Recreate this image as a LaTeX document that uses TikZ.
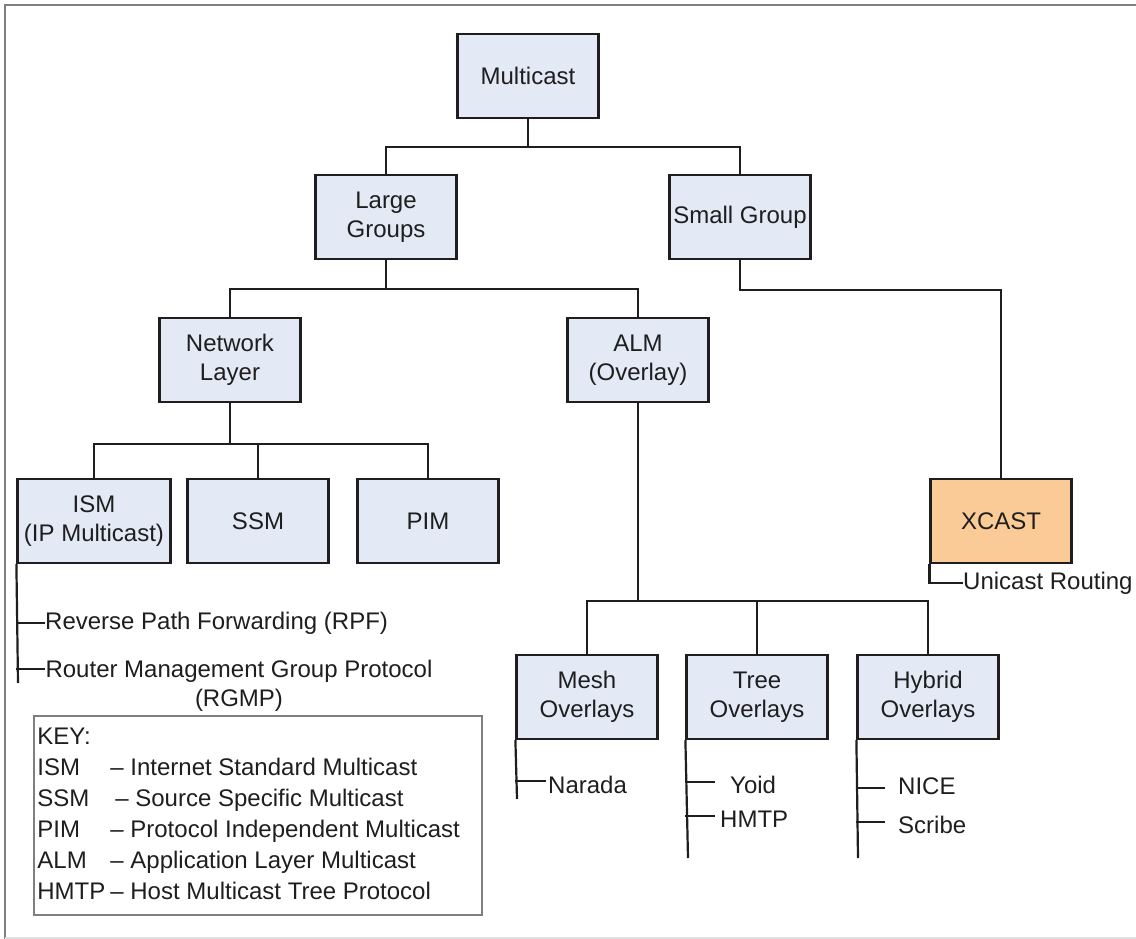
\documentclass[tikz,border=0pt]{standalone}
\usepackage{fontspec}
\setmainfont{Liberation Sans}
\usetikzlibrary{calc}
\definecolor{boxblue}{HTML}{E3EAF6}
\definecolor{boxpeach}{HTML}{FBCB97}
\definecolor{framegray}{HTML}{7F7F7F}
\definecolor{ink}{HTML}{1E1E1E}
\begin{document}
\begin{tikzpicture}[x=1pt,y=-1pt,
  every node/.style={font=\fontsize{24}{29}\selectfont, text=ink},
  tbox/.style={draw=ink, line width=2.2pt, fill=boxblue, minimum width=141pt,
    minimum height=84pt, align=center, inner sep=0pt},
  hot/.style={tbox, fill=boxpeach},
  wire/.style={draw=ink, line width=2.2pt},
  leaf/.style={anchor=west, inner sep=0pt},
  keybox/.style={draw=framegray, line width=1.6pt, minimum width=448pt,
    minimum height=199pt, inner sep=0pt}]

% page area and frame
\useasboundingbox (0,0) rectangle (1136,939);
\draw[framegray, line width=2.5pt] (5,939) -- (5,5) -- (1136,5);
\draw[black!12, line width=2pt] (5,938) -- (1136,938);

% boxes
\node[tbox] (mc)   at (528,76)  {Multicast};
\node[tbox] (lg)   at (386,217) {Large\\Groups};
\node[tbox] (sg)   at (740,217) {Small Group};
\node[tbox] (nl)   at (230,360) {Network\\Layer};
\node[tbox] (alm)  at (638,360) {ALM\\(Overlay)};
\node[tbox, minimum width=153pt] (ism) at (94,521) {ISM\\(IP Multicast)};
\node[tbox] (ssm)  at (258,521) {SSM};
\node[tbox] (pim)  at (428,521) {PIM};
\node[hot]  (xc)   at (1001,521) {XCAST};
\node[tbox] (mesh) at (587,697) {Mesh\\Overlays};
\node[tbox] (tree) at (757,697) {Tree\\Overlays};
\node[tbox] (hyb)  at (928,697) {Hybrid\\Overlays};

% junctions of the tree
\coordinate (j1) at (528,147);
\coordinate (j2) at (386,289);
\coordinate (j3) at (870,290);
\coordinate (j4) at (230,444);
\coordinate (j5) at (638,601);

\draw[wire] (mc.south) -- (j1);
\draw[wire] (lg.north) |- (j1) -| (sg.north);
\draw[wire] (lg.south) -- (j2);
\draw[wire] (nl.north) |- (j2) -| (alm.north);
\draw[wire] (sg.south) |- (j3) -| (xc.north);
\draw[wire] (nl.south) -- (j4);
\draw[wire] (ism.north) |- (j4) -| (pim.north);
\draw[wire] (ssm.north) -- (ssm.north |- j4);
\draw[wire] (alm.south) -- (j5);
\draw[wire] (mesh.north) |- (j5) -| (hyb.north);
\draw[wire] (tree.north) -- (tree.north |- j5);

% leaf labels
\node[leaf] (rpf) at (45,623) {Reverse Path Forwarding (RPF)};
\node[align=center, anchor=north, inner sep=0pt] (rgmp) at (239,660)
  {Router Management Group Protocol\\(RGMP)};
\node[leaf] (uni)  at (963,583) {Unicast Routing};
\node[leaf] (nar)  at (548,785) {Narada};
\node[leaf] (yoid) at (730,785) {Yoid};
\node[leaf] (hmtp) at (720,819) {HMTP};
\node[leaf] (nice) at (898,786) {NICE};
\node[leaf] (scr)  at (898,825) {Scribe};

% free ends of the leaf stems
\coordinate (ismEnd)  at (18,683);
\coordinate (tRgmp)   at (45,669);
\coordinate (meshEnd) at (517,799);
\coordinate (tNar)    at (546,781);
\coordinate (treeEnd) at (688,858);
\coordinate (tYoid)   at (715,782);
\coordinate (tHmtp)   at (715,816);
\coordinate (hybEnd)  at (858,858);
\coordinate (tNice)   at (885,788);
\coordinate (tScr)    at (885,822);

\draw[wire] (ism.south west) -- (ismEnd);
\draw[wire] (ism.south west |- rpf.west) -- (rpf.west);
\draw[wire] (ism.south west |- tRgmp) -- (tRgmp);

\draw[wire] (xc.south west) |- (uni.west);

\draw[wire] (mesh.south west) -- (meshEnd);
\draw[wire] (mesh.south west |- tNar) -- (tNar);

\draw[wire] (tree.south west) -- (treeEnd);
\draw[wire] (tree.south west |- tYoid) -- (tYoid);
\draw[wire] (tree.south west |- tHmtp) -- (tHmtp);

\draw[wire] (hyb.south west) -- (hybEnd);
\draw[wire] (hyb.south west |- tNice) -- (tNice);
\draw[wire] (hyb.south west |- tScr) -- (tScr);

% key of abbreviations
\node[keybox] (key) at (258,815.5) {};
\node[anchor=north west, inner sep=0pt, font=\fontsize{24}{31}\selectfont]
  (keytext) at ($(key.north west)+(4,7)$)
  {\begin{tabular}{@{}p{73pt}@{}l@{}}
   KEY: & \\
   ISM  & -- Internet Standard Multicast\\
   SSM  & \hspace{5pt}-- Source Specific Multicast\\
   PIM  & -- Protocol Independent Multicast\\
   ALM  & -- Application Layer Multicast\\
   HMTP & -- Host Multicast Tree Protocol
   \end{tabular}};
\end{tikzpicture}
\end{document}
